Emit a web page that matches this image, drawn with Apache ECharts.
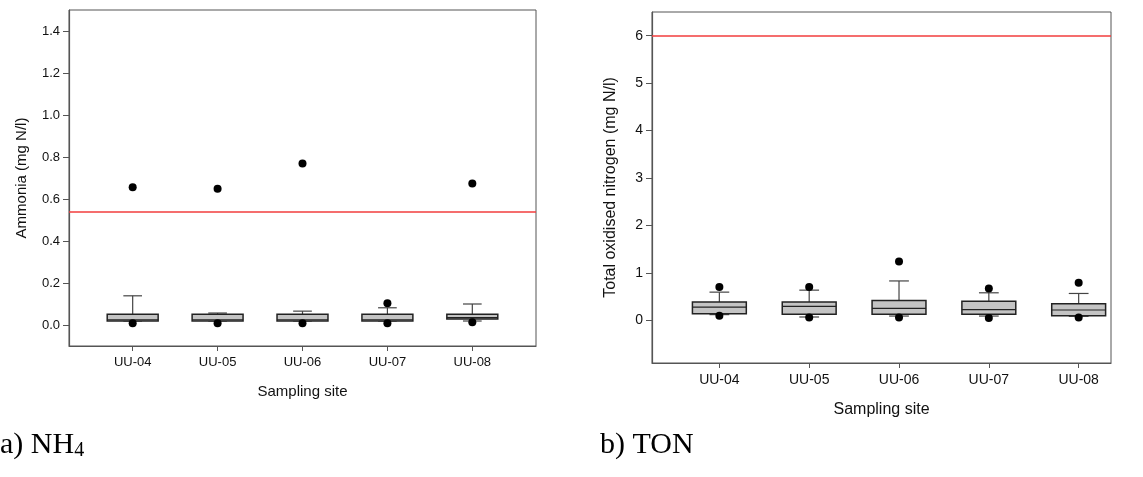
<!DOCTYPE html>
<html>
<head>
<meta charset="utf-8">
<script src="https://cdn.jsdelivr.net/npm/echarts@6/dist/echarts.min.js"></script>
<style>
  html, body { margin: 0; padding: 0; background: #fff; }
  #chart { width: 1143px; height: 477px; }
</style>
</head>
<body>
<div id="chart"></div>
<script>
// sampling sites (x categories)
var sites = ['UU-04', 'UU-05', 'UU-06', 'UU-07', 'UU-08'];

// a) ammonia: [min, q1, median, q3, max] per site
var nh4Box = [
  [0.019, 0.019, 0.025, 0.051, 0.139],
  [0.019, 0.019, 0.025, 0.051, 0.057],
  [0.019, 0.019, 0.025, 0.051, 0.066],
  [0.019, 0.019, 0.025, 0.051, 0.082],
  [0.019, 0.028, 0.035, 0.051, 0.100]
];
// outliers: [site index (1-based), value]
var nh4Outliers = [
  [1, 0.656], [1, 0.008],
  [2, 0.649], [2, 0.008],
  [3, 0.769], [3, 0.008],
  [4, 0.103], [4, 0.008],
  [5, 0.674], [5, 0.013]
];
var nh4Limit = 0.54;
var nh4Ticks = [0, 0.2, 0.4, 0.6, 0.8, 1.0, 1.2, 1.4];

// b) total oxidised nitrogen
var tonBox = [
  [0.120, 0.140, 0.280, 0.384, 0.594],
  [0.070, 0.130, 0.294, 0.384, 0.636],
  [0.090, 0.126, 0.250, 0.420, 0.830],
  [0.090, 0.126, 0.224, 0.400, 0.580],
  [0.084, 0.098, 0.217, 0.350, 0.566]
];
var tonOutliers = [
  [1, 0.70], [1, 0.098],
  [2, 0.70], [2, 0.06],
  [3, 1.24], [3, 0.06],
  [4, 0.67], [4, 0.05],
  [5, 0.79], [5, 0.06]
];
var tonLimit = 6;
var tonTicks = [0, 1, 2, 3, 4, 5, 6];

var siteIdx = [1, 2, 3, 4, 5];

// build [x, min, q1, med, q3, max] rows for the custom series
function boxRows(box) {
  return box.map(function (b, i) { return [i + 1].concat(b); });
}

// box with short whisker caps (sigmaplot style)
function renderBox(params, api) {
  var x = api.value(0);
  var unit = api.size([1, 0])[0];
  var bw = unit * 0.6;
  var cw = unit * 0.22;
  var pMin = api.coord([x, api.value(1)]);
  var pQ1 = api.coord([x, api.value(2)]);
  var pMed = api.coord([x, api.value(3)]);
  var pQ3 = api.coord([x, api.value(4)]);
  var pMax = api.coord([x, api.value(5)]);
  var cx = pMed[0];
  var wStyle = { stroke: '#444', lineWidth: 1.2 };
  return {
    type: 'group',
    children: [
      { type: 'line', shape: { x1: cx, y1: pQ3[1], x2: cx, y2: pMax[1] }, style: wStyle },
      { type: 'line', shape: { x1: cx - cw / 2, y1: pMax[1], x2: cx + cw / 2, y2: pMax[1] }, style: wStyle },
      { type: 'line', shape: { x1: cx, y1: pQ1[1], x2: cx, y2: pMin[1] }, style: wStyle },
      { type: 'line', shape: { x1: cx - cw / 2, y1: pMin[1], x2: cx + cw / 2, y2: pMin[1] }, style: wStyle },
      { type: 'rect', shape: { x: cx - bw / 2, y: pQ3[1], width: bw, height: pQ1[1] - pQ3[1] },
        style: { fill: '#c4c4c4', stroke: '#222', lineWidth: 1.5 } },
      { type: 'line', shape: { x1: cx - bw / 2, y1: pMed[1], x2: cx + bw / 2, y2: pMed[1] },
        style: { stroke: '#222', lineWidth: 1.2 } }
    ]
  };
}

var font = 'Liberation Sans, Arial, sans-serif';

function xAxisFor(gridIndex, maxV, fs, nameFs, gap) {
  return {
    type: 'value', gridIndex: gridIndex, min: 0.25, max: maxV,
    name: 'Sampling site', nameLocation: 'middle', nameGap: gap,
    nameTextStyle: { fontFamily: font, fontSize: nameFs, color: '#111' },
    splitLine: { show: false },
    axisLine: { onZero: false, lineStyle: { color: '#555', width: 1.2 } },
    axisTick: { length: 5, customValues: siteIdx, lineStyle: { color: '#555' } },
    axisLabel: {
      customValues: siteIdx, margin: 10,
      fontFamily: font, fontSize: fs, color: '#111',
      formatter: function (v) { return sites[Math.round(v) - 1]; }
    }
  };
}

function yAxisFor(gridIndex, minV, maxV, ticks, digits, name, fs, nameFs, gap) {
  return {
    type: 'value', gridIndex: gridIndex, min: minV, max: maxV,
    name: name, nameLocation: 'middle', nameGap: gap,
    nameTextStyle: { fontFamily: font, fontSize: nameFs, color: '#111' },
    splitLine: { show: false },
    axisLine: { show: true, onZero: false, lineStyle: { color: '#555', width: 1.2 } },
    axisTick: { length: 6, customValues: ticks, lineStyle: { color: '#555' } },
    axisLabel: {
      customValues: ticks, margin: 9,
      fontFamily: font, fontSize: fs, color: '#111',
      formatter: function (v) { return v.toFixed(digits); }
    }
  };
}

function limitLine(v) {
  return {
    silent: true, symbol: 'none', label: { show: false },
    lineStyle: { color: '#f23c3c', width: 1.5, type: 'solid' },
    data: [{ yAxis: v }]
  };
}

var chart = echarts.init(document.getElementById('chart'));
chart.setOption({
  backgroundColor: '#fff',
  animation: false,
  grid: [
    { left: 69, top: 10, width: 467, height: 336, show: true, borderColor: '#555', borderWidth: 1 },
    { left: 652, top: 12, width: 459, height: 351, show: true, borderColor: '#555', borderWidth: 1 }
  ],
  xAxis: [
    xAxisFor(0, 5.75, 13, 15, 38),
    xAxisFor(1, 5.36, 14, 16, 39)
  ],
  yAxis: [
    yAxisFor(0, -0.1, 1.5, nh4Ticks, 1, 'Ammonia (mg N/l)', 13, 15, 40),
    yAxisFor(1, -0.9, 6.5, tonTicks, 0, 'Total oxidised nitrogen (mg N/l)', 14, 16, 33)
  ],
  graphic: [
    { type: 'text', left: 0, top: 430,
      style: { text: 'a) NH{s|4}', font: '30px "Liberation Serif", "Times New Roman", serif', fill: '#000',
        rich: { s: { fontSize: 20, fontFamily: 'Liberation Serif', padding: [12, 0, 0, 0] } } } },
    { type: 'text', left: 600, top: 430,
      style: { text: 'b) TON', font: '30px "Liberation Serif", "Times New Roman", serif', fill: '#000' } }
  ],
  series: [
    { type: 'custom', xAxisIndex: 0, yAxisIndex: 0, renderItem: renderBox,
      encode: { x: 0, y: [1, 2, 3, 4, 5] }, data: boxRows(nh4Box) },
    { type: 'scatter', xAxisIndex: 0, yAxisIndex: 0, symbolSize: 8,
      itemStyle: { color: '#000', opacity: 1 }, data: nh4Outliers, markLine: limitLine(nh4Limit) },
    { type: 'custom', xAxisIndex: 1, yAxisIndex: 1, renderItem: renderBox,
      encode: { x: 0, y: [1, 2, 3, 4, 5] }, data: boxRows(tonBox) },
    { type: 'scatter', xAxisIndex: 1, yAxisIndex: 1, symbolSize: 8,
      itemStyle: { color: '#000', opacity: 1 }, data: tonOutliers, markLine: limitLine(tonLimit) }
  ]
});
</script>
</body>
</html>
